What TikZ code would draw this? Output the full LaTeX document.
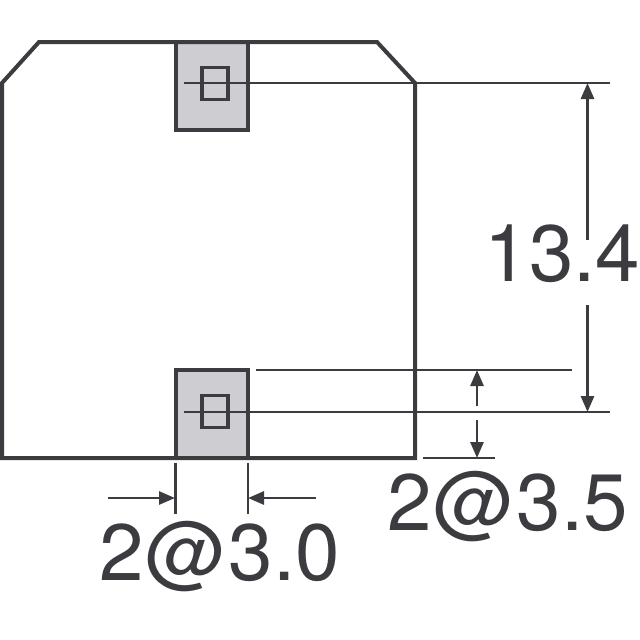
\documentclass[tikz,border=0pt]{standalone}
\usepackage{fontspec}
\setmainfont{TeX Gyre Heros}
\usetikzlibrary{arrows.meta}
\definecolor{ink}{HTML}{3C3C40}
\definecolor{padfill}{HTML}{CDCDD2}
\newcommand{\padat}{\kern2pt@\kern2pt}

\begin{document}
\begin{tikzpicture}%
  [x=1pt,y=-1pt,line join=miter,
   dim line/.style={draw=ink,line width=2.4pt},
   dim arrow/.style={draw=ink,line width=2.8pt,-{Triangle[length=16pt,width=13pt]},shorten >=0pt}]
  \tikzstyle{pad node}=[rectangle,draw=ink,fill=padfill,line width=4pt,minimum width=72.5pt,minimum height=88pt,inner sep=0,outer sep=0]
  \tikzstyle{via node}=[rectangle,draw=ink,line width=3.6pt,minimum width=26pt,minimum height=32pt,inner sep=0,outer sep=0]
  \tikzstyle{dim text}=[text=ink,inner sep=0,anchor=base,font=\fontsize{80}{80}\selectfont]
  \useasboundingbox (0,0) rectangle (640,640);
  % pads
  \node(top pad)[pad node] at (211.75,86){};
  \node(bot pad)[pad node] at (211.75,414){};
  \node(top via)[via node] at (214.8,83.5){};
  \node(bot via)[via node] at (214.8,411.5){};
  % outline
  \draw[ink,line width=4pt] (2,458) -- (2,83) -- (39,42) -- (377,42) -- (415,83) -- (415,458) -- cycle;
  % free ends
  \coordinate(top l) at (184,83);
  \coordinate(top r) at (610,83);
  \coordinate(bot l) at (184,412);
  \coordinate(bot r) at (610,412);
  \coordinate(pad top l) at (256,370);
  \coordinate(pad top r) at (572,370);
  \coordinate(base l) at (423,458);
  \coordinate(base r) at (495,458);
  \coordinate(tick a) at (175.5,463);
  \coordinate(tick a end) at (175.5,514);
  \coordinate(tick b) at (248,463);
  \coordinate(tick b end) at (248,514);
  \node(pitch)[dim text] at (562.5,281){13.4};
  \node(height)[dim text] at (507.5,530.5){2\padat3.5};
  \node(width)[dim text] at (219.5,580){2\padat3.0};
  % dimension lines
  \draw[dim line] (top l) -- (top r);
  \draw[dim line] (bot l) -- (bot r);
  \draw[dim line] (pad top l) -- (pad top r);
  \draw[dim line] (base l) -- (base r);
  \draw[dim line] (tick a) -- (tick a end);
  \draw[dim line] (tick b) -- (tick b end);
  % arrows
  \coordinate(up a) at (587.5,240);
  \coordinate(up tip) at (587.5,83);
  \coordinate(dn a) at (587.5,305);
  \coordinate(dn tip) at (587.5,412);
  \coordinate(h up a) at (477,406);
  \coordinate(h up tip) at (477,370);
  \coordinate(h dn a) at (477,420);
  \coordinate(h dn tip) at (477,458);
  \coordinate(w a) at (108,498);
  \coordinate(w a tip) at (175,498);
  \coordinate(w b) at (316,498);
  \coordinate(w b tip) at (248,498);
  \draw[dim arrow] (up a) -- (up tip);
  \draw[dim arrow] (dn a) -- (dn tip);
  \draw[dim arrow] (h up a) -- (h up tip);
  \draw[dim arrow] (h dn a) -- (h dn tip);
  \draw[dim arrow] (w a) -- (w a tip);
  \draw[dim arrow] (w b) -- (w b tip);
\end{tikzpicture}
\end{document}
